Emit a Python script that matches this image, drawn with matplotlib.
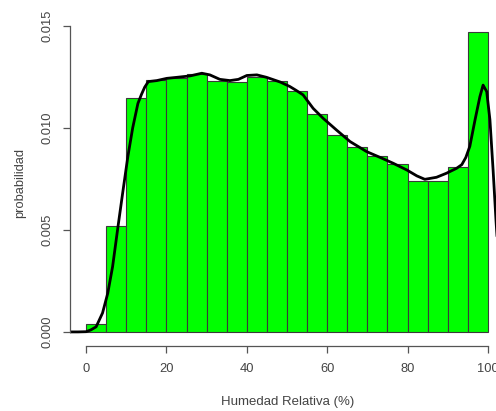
import numpy as np
import matplotlib
matplotlib.use("Agg")
import matplotlib.pyplot as plt

# histograma de humedad relativa (densidad), bins de 5 %
bordes = np.arange(0, 105, 5)
densidad = [0.00038, 0.0052, 0.01145, 0.01235, 0.01245, 0.01265, 0.0123,
            0.01225, 0.0125, 0.0123, 0.0118, 0.01068, 0.00966, 0.00907,
            0.00863, 0.00824, 0.0074, 0.0074, 0.0081, 0.01472]

# curva de densidad
curva_x = [-4, -2, 0, 1.2, 2.5, 4.1, 5.4, 6.6, 7.9, 9.1, 10.4, 11.6, 12.9,
           13.8, 14.6, 15.5, 17.6, 20.1, 22.6, 25.9, 28.8, 30.8, 33.3, 35.8,
           37.9, 40, 42.5, 44.9, 48.3, 50.7, 52.2, 54, 56.5, 59, 62.3, 65.7,
           69.8, 73.1, 76.4, 79.8, 82.3, 84.3, 87.2, 89.7, 92.2, 93.5, 94.5,
           95.5, 96.8, 98, 98.8, 99.7, 100.5, 101.3, 102, 102.8, 104]
curva_y = [0, 0, 0.00001, 0.0001, 0.00025, 0.00093, 0.0019, 0.0032, 0.0051,
           0.0068, 0.0086, 0.0100, 0.0112, 0.01165, 0.012, 0.01227, 0.01232,
           0.01243, 0.01248, 0.01255, 0.01268, 0.0126, 0.01238, 0.01232,
           0.01238, 0.01257, 0.0126, 0.01248, 0.01225, 0.01203, 0.01185,
           0.01162, 0.01096, 0.01047, 0.0099, 0.00933, 0.00884, 0.00856,
           0.00827, 0.00794, 0.00765, 0.00748, 0.00758, 0.00778, 0.00802,
           0.0082, 0.00855, 0.0091, 0.0104, 0.01153, 0.0121, 0.01178,
           0.0104, 0.0079, 0.0055, 0.003, 0.0008]

xticks = [0, 20, 40, 60, 80, 100]
yticks = [0.000, 0.005, 0.010, 0.015]

plt.rcParams['font.family'] = ['Liberation Sans', 'DejaVu Sans']
gris = '#444444'

fig = plt.figure(figsize=(4.96, 4.11), dpi=100)
ax = fig.add_axes([70 / 496, 65 / 411, 436 / 496, 326 / 411])

ax.bar(bordes[:-1], densidad, width=np.diff(bordes), align='edge',
       color='#00ff00', edgecolor='#3a3a3a', linewidth=0.8)
ax.plot(curva_x, curva_y, color='black', linewidth=2.0,
        solid_joinstyle='round', solid_capstyle='round')

ax.set_xlim(-4, 104.5)
ax.set_ylim(-0.00069, 0.01529)

for lado in ['top', 'right']:
    ax.spines[lado].set_visible(False)
ax.spines['left'].set_bounds(0, 0.015)
ax.spines['bottom'].set_bounds(0, 100)
for lado in ['left', 'bottom']:
    ax.spines[lado].set_color('#555555')
    ax.spines[lado].set_linewidth(0.9)

ax.set_xticks(xticks)
ax.set_yticks(yticks)
ax.set_yticklabels(['%.3f' % v for v in yticks], rotation=90, va='center')
ax.tick_params(axis='both', direction='out', length=5, width=0.9,
               color='#555555', labelcolor=gris, labelsize=9.3)
ax.tick_params(axis='x', pad=7)
ax.tick_params(axis='y', pad=7)

ax.set_xlabel('Humedad Relativa (%)', fontsize=9.5, color=gris, labelpad=15)
ax.set_ylabel('probabilidad', fontsize=9.3, color=gris, labelpad=11)

fig.savefig('out.png', dpi=100)
